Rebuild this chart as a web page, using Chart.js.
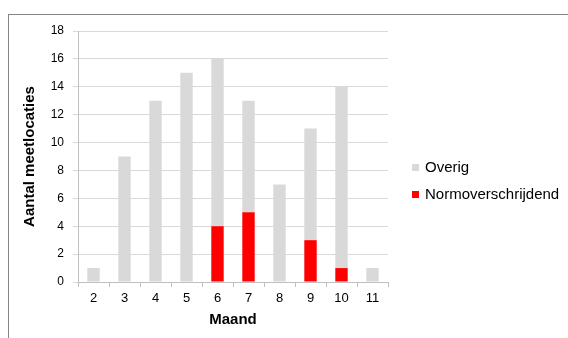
<!DOCTYPE html>
<html><head><meta charset="utf-8">
<script src="https://cdn.jsdelivr.net/npm/chart.js@4/dist/chart.umd.min.js"></script>
<style>
html,body{margin:0;padding:0;background:#fff;}
#wrap{position:relative;width:568px;height:338px;overflow:hidden;}
#frame{position:absolute;left:8px;top:14px;width:600px;height:400px;border-left:1px solid #858585;border-top:1px solid #858585;pointer-events:none;}
canvas{position:absolute;left:0;top:0;}
</style></head><body>
<div id="wrap"><canvas id="c" width="568" height="338"></canvas><div id="frame"></div></div>
<script>
const months = ['2','3','4','5','6','7','8','9','10','11'];
const normoverschrijdend = [0,0,0,0,4,5,0,3,1,0];
const overig = [1,9,13,15,12,8,7,8,13,1];
const yMin = 0, yMax = 18, yStep = 2;
const seriesNames = ['Normoverschrijdend','Overig'];
const seriesColors = ['#ff0000','#d9d9d9'];
const xTitle = 'Maand';
const yTitle = 'Aantal meetlocaties';

const FONT = "'Liberation Sans', Arial, sans-serif";
Chart.defaults.font.family = FONT;
Chart.defaults.color = '#000';

// Legend drawn from the chart's own datasets (reverse order, like the original)
const sideLegend = {
  id: 'sideLegend',
  afterDraw(chart, args, opts) {
    const ctx = chart.ctx;
    const items = chart.data.datasets.slice().reverse();
    ctx.save();
    ctx.font = opts.fontSize + 'px ' + FONT;
    ctx.textBaseline = 'middle';
    ctx.textAlign = 'left';
    items.forEach((ds, i) => {
      const cy = opts.y + i * opts.spacing;
      ctx.fillStyle = ds.backgroundColor;
      ctx.fillRect(opts.x, Math.round(cy - opts.box / 2), opts.box, opts.box);
      ctx.fillStyle = '#000';
      ctx.fillText(ds.label, opts.x + opts.box + opts.gap, cy + 1);
    });
    ctx.restore();
  }
};

new Chart(document.getElementById('c'), {
  type: 'bar',
  data: {
    labels: months,
    datasets: [
      {label: seriesNames[0], data: normoverschrijdend, backgroundColor: seriesColors[0], borderWidth: 0, categoryPercentage: 1, barPercentage: 0.4},
      {label: seriesNames[1], data: overig, backgroundColor: seriesColors[1], borderWidth: 0, categoryPercentage: 1, barPercentage: 0.4}
    ]
  },
  plugins: [sideLegend],
  options: {
    responsive: false,
    animation: false,
    devicePixelRatio: 1,
    layout: {padding: {left: 16, top: 31, right: 180, bottom: 9}},
    plugins: {
      legend: {display: false},
      tooltip: {enabled: false},
      sideLegend: {x: 412, y: 167, spacing: 27, box: 7, gap: 6, fontSize: 15}
    },
    scales: {
      x: {
        stacked: true,
        grid: {display: true, drawOnChartArea: false, drawTicks: true, tickLength: 5, color: '#bfbfbf', offset: true},
        border: {display: true, color: '#bfbfbf'},
        ticks: {font: {size: 13}, padding: 4, color: '#000', maxRotation: 0},
        title: {display: true, text: xTitle, font: {size: 15, weight: 'bold'}, color: '#000', padding: {top: 0, bottom: 0}},
        afterFit(s) { s.height = 47; }
      },
      y: {
        stacked: true,
        min: yMin, max: yMax,
        grid: {color: '#d9d9d9', drawTicks: true, tickLength: 5, tickColor: '#d9d9d9'},
        border: {display: true, color: '#bfbfbf'},
        ticks: {stepSize: yStep, font: {size: 12}, padding: 9, color: '#000'},
        title: {display: true, text: yTitle, font: {size: 15, weight: 'bold'}, color: '#000', padding: {top: 5, bottom: 0}},
        afterFit(s) { s.width = 62; }
      }
    }
  }
});
</script>
</body></html>
